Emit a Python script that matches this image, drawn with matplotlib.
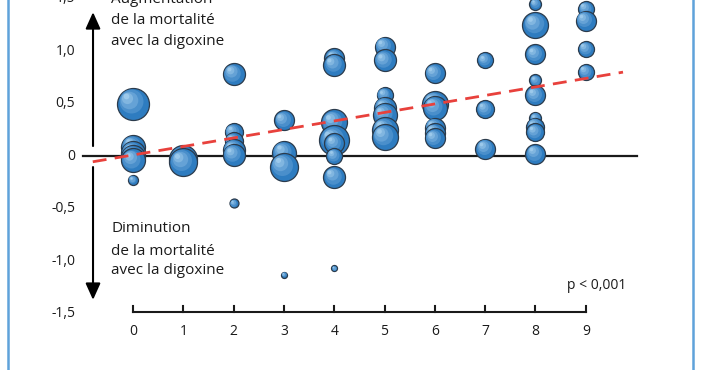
import numpy as np
import matplotlib.pyplot as plt

plt.rcParams['font.family'] = ['Open Sans', 'DejaVu Sans']

# studies: x position (category), effect on mortality, relative weight (bubble diameter)
study_x = [0, 0, 0, 0, 0, 0,
           1, 1,
           2, 2, 2, 2, 2, 2,
           3, 3, 3, 3,
           4, 4, 4, 4, 4, 4, 4, 4, 4,
           5, 5, 5, 5, 5, 5, 5,
           6, 6, 6, 6, 6, 6,
           7, 7, 7,
           8, 8, 8, 8, 8, 8, 8, 8, 8,
           9, 9, 9, 9]
effect = [0.50, 0.09, 0.03, -0.01, -0.04, -0.23,
          -0.03, -0.06,
          0.78, 0.23, 0.14, 0.06, 0.01, -0.45,
          0.34, 0.03, -0.10, -1.13,
          0.93, 0.87, 0.32, 0.22, 0.15, 0.12, 0.0, -0.20, -1.07,
          1.04, 0.91, 0.58, 0.46, 0.39, 0.25, 0.18,
          0.79, 0.50, 0.46, 0.27, 0.22, 0.17,
          0.91, 0.45, 0.07,
          1.45, 1.25, 0.97, 0.72, 0.58, 0.36, 0.28, 0.23, 0.02,
          1.40, 1.29, 1.02, 0.80]
weight = [32, 24, 24, 24, 24, 10,
          28, 28,
          22, 18, 18, 22, 22, 9,
          20, 24, 28, 6,
          20, 22, 26, 10, 30, 20, 16, 22, 6,
          20, 22, 16, 22, 24, 26, 26,
          20, 26, 24, 20, 20, 20,
          16, 18, 20,
          12, 26, 20, 12, 20, 12, 18, 18, 20,
          16, 20, 16, 16]

x_ticks = [0, 1, 2, 3, 4, 5, 6, 7, 8, 9]
y_ticks = [1.5, 1.0, 0.5, 0, -0.5, -1.0, -1.5]
y_tick_labels = ['1,5', '1,0', '0,5', '0', '-0,5', '-1,0', '-1,5']
trend_intercept = 0.01
trend_slope = 0.081

fig = plt.figure(figsize=(7.02, 3.70), dpi=100)
ax = fig.add_axes([0, 0, 1, 1])
ax.set_xlim(-2.644, 11.31)
ax.set_ylim(-2.038, 1.486)
ax.axis('off')

px_x = 702 / (11.31 + 2.644)
px_y = 370 / (1.486 + 2.038)

# light blue frame
ax.plot([-2.485, -2.485], [-2.1, 1.6], color='#5fa2da', lw=1.8, clip_on=False)
ax.plot([11.13, 11.13], [-2.1, 1.6], color='#5fa2da', lw=1.8, clip_on=False)

# zero line
ax.plot([-0.99, 10.02], [0, 0], color='#1a1a1a', lw=1.6, zorder=1)

# bubbles, lower ones on top
order = np.argsort(-np.array(effect), kind='stable')
base = np.array([0x2e, 0x7c, 0xc0]) / 255
light = np.array([0xb8, 0xdc, 0xf6]) / 255
for rank, i in enumerate(order):
    d = weight[i]
    x0, y0 = study_x[i], effect[i]
    z = 2 + rank * 0.01
    ax.scatter(x0, y0, s=(d * 0.72) ** 2, color=base, edgecolor='#2b3b4c',
               linewidth=0.9, zorder=z)
    for k, f in enumerate([0.75, 0.55, 0.35, 0.18]):
        c = base + (light - base) * (k + 1) / 5
        off = (1 - f) * d / 2 * 0.55
        ax.scatter(x0 - off / px_x, y0 + off / px_y, s=(d * f * 0.72) ** 2,
                   color=c, linewidth=0, zorder=z + 0.001 * (k + 1))

# trend line
tx = np.array([-0.8, 9.74])
ax.plot(tx, trend_intercept + trend_slope * tx, color='#e8413c', lw=2.0,
        dashes=(5, 3), zorder=5)

# arrows
ax.annotate('', xy=(-0.795, 1.37), xytext=(-0.795, 0.095),
            arrowprops=dict(arrowstyle='-|>,head_length=1.0,head_width=0.45',
                            color='black', lw=1.5, shrinkA=0, shrinkB=0))
ax.annotate('', xy=(-0.795, -1.37), xytext=(-0.795, -0.105),
            arrowprops=dict(arrowstyle='-|>,head_length=1.0,head_width=0.45',
                            color='black', lw=1.5, shrinkA=0, shrinkB=0))

# axis labels
for yv, lab in zip(y_ticks, y_tick_labels):
    ax.text(-1.153, yv, lab, ha='right', va='center', fontsize=10, color='#1a1a1a')

ax.plot([0, 9], [-1.486, -1.486], color='#1a1a1a', lw=1.5)
for xv in x_ticks:
    ax.plot([xv, xv], [-1.486, -1.43], color='#1a1a1a', lw=1.5)
    ax.text(xv, -1.676, str(xv), ha='center', va='center', fontsize=10, color='#1a1a1a')

# annotations
for yv, line in zip([1.49, 1.286, 1.086], ['Augmentation', 'de la mortalité', 'avec la digoxine']):
    ax.text(-0.437, yv, line, ha='left', va='center', fontsize=11, color='#1a1a1a')
for yv, line in zip([-0.695, -0.905, -1.095], ['Diminution', 'de la mortalité', 'avec la digoxine']):
    ax.text(-0.437, yv, line, ha='left', va='center', fontsize=11, color='#1a1a1a')
ax.text(9.22, -1.229, 'p < 0,001', ha='center', va='center', fontsize=10, color='#1a1a1a')

fig.savefig('out.png', dpi=100, facecolor='white')
